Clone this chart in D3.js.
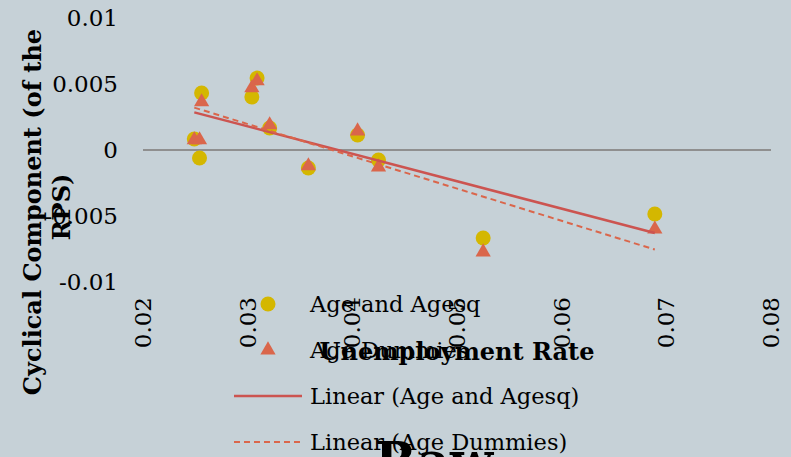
<!DOCTYPE html>
<html>
<head>
<meta charset="utf-8">
<script src="https://cdn.jsdelivr.net/npm/d3@7"></script>
<style>
  body { margin: 0; background: #c6d1d7; overflow: hidden; }
  svg { display: block; font-family: "DejaVu Serif", serif; }
</style>
</head>
<body>
<div id="content"></div>
<script>
// Data
var unemployment = [0.0249, 0.0254, 0.0256, 0.0304, 0.0309, 0.0321, 0.0358, 0.0405, 0.0425, 0.0525, 0.0689];
var ageAgesq     = [0.00083, -0.00061, 0.00432, 0.00402, 0.00545, 0.00167, -0.00136, 0.00114, -0.00076, -0.00667, -0.00485];
var ageDummies   = [0.00076, 0.00076, 0.00364, 0.0047, 0.00523, 0.0019, -0.00121, 0.00144, -0.00129, -0.00773, -0.006];
var xTicks = [0.02, 0.03, 0.04, 0.05, 0.06, 0.07, 0.08];
var yTicks = [0.01, 0.005, 0, -0.005, -0.01];
var legendLabels = ["Age and Agesq", "Age Dummies", "Linear (Age and Agesq)", "Linear (Age Dummies)"];

var width = 791, height = 457;
var yellow = "#d4b700", orange = "#da664b", red = "#cc5450";

var svg = d3.select("#content").append("svg")
    .attr("width", width)
    .attr("height", height);

// Scales
var x = d3.scaleLinear().domain([0.02, 0.08]).range([143, 771]),
    y = d3.scaleLinear().domain([-0.01, 0.01]).range([282, 18]);

// least squares, like Excel's linear trendline
function fit(xs, ys) {
  var mx = d3.mean(xs), my = d3.mean(ys);
  var b = d3.sum(xs, (v, i) => (v - mx) * (ys[i] - my)) / d3.sum(xs, v => (v - mx) * (v - mx));
  var a = my - b * mx;
  var ext = d3.extent(xs);
  return ext.map(v => [v, a + b * v]);
}

// zero line
svg.append("line")
    .attr("x1", x(0.02)).attr("x2", x(0.08))
    .attr("y1", y(0)).attr("y2", y(0))
    .attr("stroke", "#8f8f8f")
    .attr("stroke-width", 2);

// y tick labels
svg.append("g")
  .selectAll("text")
  .data(yTicks)
  .join("text")
    .attr("x", 118)
    .attr("y", d => y(d))
    .attr("dy", "0.35em")
    .attr("text-anchor", "end")
    .attr("font-size", 23)
    .text(d => String(d));

// x tick labels (rotated)
svg.append("g")
  .selectAll("text")
  .data(xTicks)
  .join("text")
    .attr("transform", d => "translate(" + x(d) + ",297) rotate(-90)")
    .attr("dy", "0.35em")
    .attr("text-anchor", "end")
    .attr("font-size", 23)
    .text(d => d3.format(".2f")(d));

// points
var pts = unemployment.map((u, i) => ({u: u, a: ageAgesq[i], d: ageDummies[i]}));

svg.append("g")
  .selectAll("circle")
  .data(pts)
  .join("circle")
    .attr("cx", d => x(d.u))
    .attr("cy", d => y(d.a))
    .attr("r", 7.5)
    .attr("fill", yellow);

var tri = d3.symbol().type(d3.symbolTriangle).size(100);
svg.append("g")
  .selectAll("path")
  .data(pts)
  .join("path")
    .attr("transform", d => "translate(" + x(d.u) + "," + y(d.d) + ")")
    .attr("d", tri)
    .attr("fill", orange);

// trendlines
var line = d3.line().x(d => x(d[0])).y(d => y(d[1]));
svg.append("path")
    .attr("d", line(fit(unemployment, ageAgesq)))
    .attr("stroke", red)
    .attr("stroke-width", 2.5)
    .attr("fill", "none");
svg.append("path")
    .attr("d", line(fit(unemployment, ageDummies)))
    .attr("stroke", orange)
    .attr("stroke-width", 2)
    .attr("stroke-dasharray", "6,4")
    .attr("fill", "none");

// axis titles
svg.append("text")
    .attr("transform", "translate(33,212) rotate(-90)")
    .attr("dy", "0.35em")
    .attr("text-anchor", "middle")
    .attr("font-weight", "bold")
    .attr("font-size", 24)
    .text("Cyclical Component (of the");
svg.append("text")
    .attr("transform", "translate(62,207) rotate(-90)")
    .attr("dy", "0.35em")
    .attr("text-anchor", "middle")
    .attr("font-weight", "bold")
    .attr("font-size", 24)
    .text("RPS)");
svg.append("text")
    .attr("x", 457)
    .attr("y", 352)
    .attr("dy", "0.35em")
    .attr("text-anchor", "middle")
    .attr("font-weight", "bold")
    .attr("font-size", 24)
    .text("Unemployment Rate");

// legend
var legend = svg.append("g")
  .selectAll("g")
  .data(legendLabels)
  .join("g")
    .attr("transform", (d, i) => "translate(0," + (304 + i * 46) + ")");

legend.append("text")
    .attr("x", 310)
    .attr("dy", "0.35em")
    .attr("font-size", 22.5)
    .text(d => d);

legend.filter((d, i) => i === 0).append("circle")
    .attr("cx", 268).attr("r", 7.5).attr("fill", yellow);
legend.filter((d, i) => i === 1).append("path")
    .attr("transform", "translate(268,0)")
    .attr("d", tri).attr("fill", orange);
legend.filter((d, i) => i === 2).append("line")
    .attr("x1", 234).attr("x2", 302)
    .attr("stroke", red).attr("stroke-width", 2.5);
legend.filter((d, i) => i === 3).append("line")
    .attr("x1", 234).attr("x2", 302)
    .attr("stroke", orange).attr("stroke-width", 2)
    .attr("stroke-dasharray", "6,4");

// title (cut off at the bottom)
svg.append("text")
    .attr("x", 434)
    .attr("y", 478)
    .attr("text-anchor", "middle")
    .attr("font-weight", "bold")
    .attr("font-size", 50)
    .text("Raw");
</script>
</body>
</html>
